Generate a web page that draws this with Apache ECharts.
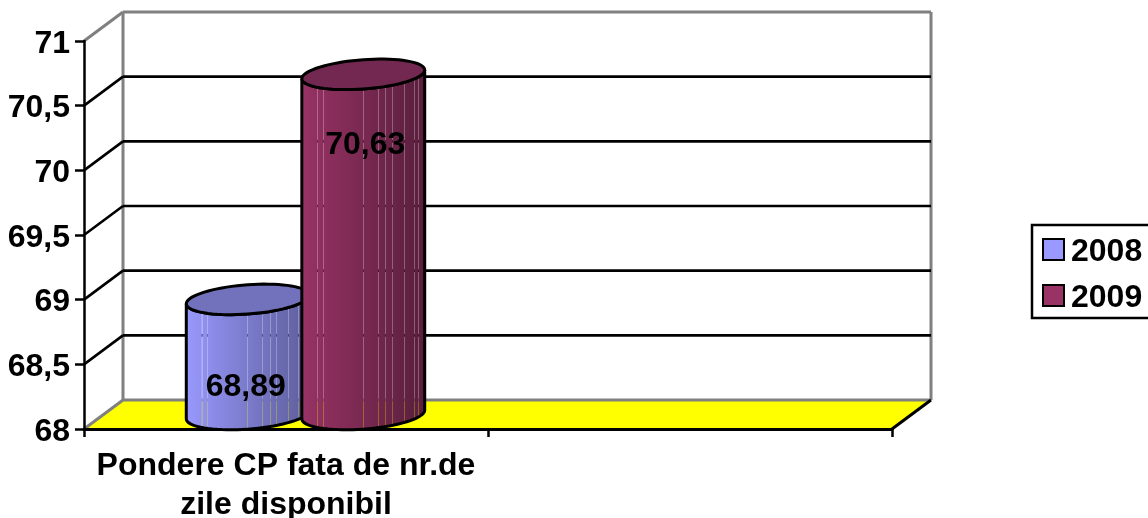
<!DOCTYPE html>
<html><head><meta charset="utf-8">
<style>html,body{margin:0;padding:0;background:#fff}#c{width:1148px;height:518px}</style>
<script src="https://cdn.jsdelivr.net/npm/echarts@6/dist/echarts.min.js"></script>
</head><body><div id="c"></div>
<script>
const categories = ['Pondere CP fata de nr.de\nzile disponibil', ''];
const seriesNames = ['2008', '2009'];
const values2008 = [68.89];
const values2009 = [70.63];
const gridValues = [68.5, 69, 69.5, 70, 70.5];
const valueLabels2008 = ['68,89'];
const valueLabels2009 = ['70,63'];

const FONT = '"Liberation Sans", Arial, sans-serif';
const DX = 39, DY = -29;
const STRIPES = [.137, .183, .5, .62, .68, .73, .825, .906, .94];

function stops(c0, c1) {
  const mix = t => c0.map((v, i) => Math.round(v + (c1[i] - v) * t));
  const css = (t, a) => { const m = mix(t); return `rgba(${m[0]},${m[1]},${m[2]},${a})`; };
  const out = [{offset: 0, color: css(0, 1)}];
  const e = 0.0045;
  STRIPES.forEach(f => {
    out.push({offset: f - e, color: css(f, 1)}, {offset: f - e + 0.0005, color: css(f, .72)},
             {offset: f + e - 0.0005, color: css(f, .72)}, {offset: f + e, color: css(f, 1)});
  });
  out.push({offset: 1, color: css(1, 1)});
  return {type: 'linear', x: 0, y: 0, x2: 1, y2: 0, colorStops: out};
}

function ellipsePoint(cx, cy, rx, ry, phi, t) {
  const u = rx * Math.cos(t), v = ry * Math.sin(t);
  return [cx + u * Math.cos(phi) - v * Math.sin(phi), cy + u * Math.sin(phi) + v * Math.cos(phi)];
}

function cylinder(opts) {
  return function (params, api) {
    const band = api.size([1, 0])[0];
    const val = api.value(1);
    const front = api.coord([api.value(0), val]);
    const base = api.coord([api.value(0), 68]);
    const cx = front[0] + band * opts.offset + DX / 2;
    const cyTop = front[1] + DY / 2;
    const cyBot = base[1] + DY / 2;
    const rx = band * 0.1525, ry = 14.6, phi = -4.3 * Math.PI / 180;
    // parameter of the right-hand tangent of the tilted ellipse
    const t0 = Math.atan2(-ry * Math.sin(phi), rx * Math.cos(phi));
    const N = 72, topPts = [], bodyPts = [];
    for (let i = 0; i < N; i++) topPts.push(ellipsePoint(cx, cyTop, rx, ry, phi, t0 + 2 * Math.PI * i / N));
    for (let i = 0; i <= N / 2; i++) bodyPts.push(ellipsePoint(cx, cyBot, rx, ry, phi, t0 + Math.PI * i / (N / 2)));
    for (let i = 0; i <= N / 2; i++) bodyPts.push(ellipsePoint(cx, cyTop, rx, ry, phi, t0 + Math.PI - Math.PI * i / (N / 2)));
    return {type: 'group', children: [
      {type: 'polygon', shape: {points: bodyPts}, style: {fill: stops(opts.light, opts.dark), stroke: '#000', lineWidth: 3}},
      {type: 'polygon', shape: {points: topPts}, style: {fill: opts.top, stroke: '#000', lineWidth: 3}},
      {type: 'text', z2: 50, style: {text: opts.labels[params.dataIndex], x: cx + opts.labelDx, y: front[1] + opts.labelDy,
        align: 'center', verticalAlign: 'middle', fill: '#000', font: 'bold 32px ' + FONT}}
    ]};
  };
}

function wall(params, api) {
  const band = api.size([1, 0])[0];
  const a = api.coord([0, 68]), t = api.coord([0, 71]);
  const x0 = a[0] - band / 2, x1 = x0 + band * categories.length;
  const y0 = a[1], y1 = t[1];
  const grey = {stroke: '#808080', lineWidth: 3, fill: null};
  const line = (p, q, st) => ({type: 'line', shape: {x1: p[0], y1: p[1], x2: q[0], y2: q[1]}, style: st});
  return {type: 'group', children: [
    {type: 'polygon', shape: {points: [[x0, y0], [x1, y0], [x1 + DX, y0 + DY], [x0 + DX, y0 + DY]]}, style: {fill: '#ffff00'}},
    line([x0 + DX, y1 + DY], [x0 + DX, y0 + DY], grey),
    line([x1 + DX, y1 + DY], [x1 + DX, y0 + DY], grey),
    line([x0 + DX, y1 + DY], [x1 + DX, y1 + DY], grey),
    line([x0 + DX, y0 + DY], [x1 + DX, y0 + DY], grey),
    line([x0, y1], [x0 + DX, y1 + DY], grey),
    line([x0, y0], [x0 + DX, y0 + DY], grey),
    line([x1, y0], [x1 + DX, y0 + DY], {stroke: '#000', lineWidth: 3})
  ]};
}

function gridRow(params, api) {
  const band = api.size([1, 0])[0];
  const p = api.coord([0, api.value(0)]);
  const x0 = p[0] - band / 2, x1 = x0 + band * categories.length;
  const st = {stroke: '#000', lineWidth: 2.6, fill: null};
  return {type: 'group', children: [
    {type: 'line', shape: {x1: x0, y1: p[1], x2: x0 + DX, y2: p[1] + DY}, style: st},
    {type: 'line', shape: {x1: x0 + DX, y1: p[1] + DY, x2: x1 + DX, y2: p[1] + DY}, style: st}
  ]};
}

const boldText = {fontFamily: FONT, fontWeight: 'bold', fontSize: 32, color: '#000'};

const chart = echarts.init(document.getElementById('c'), null, {renderer: 'canvas'});
chart.setOption({
  animation: false,
  backgroundColor: '#fff',
  textStyle: {fontFamily: FONT},
  grid: {left: 84, right: 256, top: 41, bottom: 89, containLabel: false, outerBoundsMode: 'none'},
  legend: {
    data: seriesNames, orient: 'vertical', left: 1032, top: 225,
    padding: [11.5, 30, 3.5, 10], itemGap: 14, itemWidth: 21, itemHeight: 21,
    borderColor: '#000', borderWidth: 2.5, icon: 'rect', selectedMode: false,
    formatter: name => `{t|${name}}`,
    textStyle: {...boldText, rich: {t: {...boldText, padding: [6, 0, 0, 2]}}}
  },
  xAxis: {
    type: 'category', data: categories, z: 3,
    axisLine: {lineStyle: {color: '#000', width: 3}},
    axisTick: {show: true, alignWithLabel: false, length: 8, lineStyle: {color: '#000', width: 2.5}},
    axisLabel: {...boldText, lineHeight: 39, margin: 18, interval: 0},
    splitLine: {show: false}
  },
  yAxis: {
    type: 'value', min: 68, max: 71, interval: 0.5, z: 3,
    axisLine: {show: true, lineStyle: {color: '#000', width: 2.5}},
    axisTick: {show: true, length: 9, lineStyle: {color: '#000', width: 2.5}},
    axisLabel: {...boldText, margin: 14,
      rich: {t: {...boldText, padding: [6, 0, 0, 0]}},
      formatter: v => `{t|${String(v).replace('.', ',')}}`},
    splitLine: {show: false}
  },
  series: [
    {type: 'custom', name: 'walls', z: 1, silent: true, data: [[0, 68]], encode: {x: 0, y: 1}, renderItem: wall},
    {type: 'custom', name: 'grid', z: 2, silent: true, data: gridValues.map(v => [v]), encode: {y: 0}, renderItem: gridRow},
    {type: 'custom', name: seriesNames[0], z: 5, silent: true,
      itemStyle: {color: '#9999FF', borderColor: '#000', borderWidth: 2.5},
      data: values2008.map((v, i) => [i, v]), encode: {x: 0, y: 1},
      renderItem: cylinder({offset: -0.143, light: [153, 153, 255], dark: [92, 92, 153], top: '#7272BC',
        labels: valueLabels2008, labelDx: -2, labelDy: 73})},
    {type: 'custom', name: seriesNames[1], z: 6, silent: true,
      itemStyle: {color: '#993366', borderColor: '#000', borderWidth: 2.5},
      data: values2009.map((v, i) => [i, v]), encode: {x: 0, y: 1},
      renderItem: cylinder({offset: 0.143, light: [153, 51, 102], dark: [88, 30, 60], top: '#722850',
        labels: valueLabels2009, labelDx: 2, labelDy: 56})}
  ]
});
</script></body></html>
